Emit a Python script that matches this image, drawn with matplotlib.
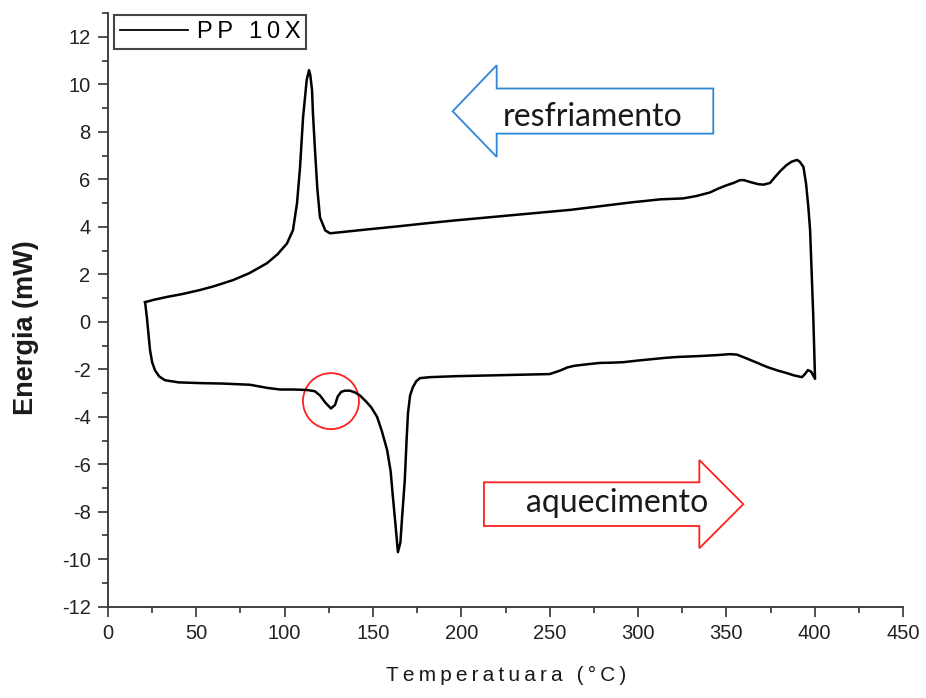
import matplotlib
matplotlib.use("Agg")
import matplotlib.pyplot as plt
from matplotlib.patches import Polygon, Ellipse
from matplotlib.ticker import MultipleLocator

# DSC loop: heating 21 -> 400 °C, then cooling 400 -> 21 °C
temp_heat = [21, 22, 23.8, 25, 26.6, 29, 32.3, 40, 52, 65, 80.4, 90, 97.4, 105, 112.6,
             117, 120, 123, 126.2, 128.5, 130, 132, 134, 137, 140, 142.6, 146, 149,
             152.3, 155, 158, 160, 161.3, 162.8, 164.1, 165.5, 166.5, 168, 169, 169.8,
             171, 172.6, 174.5, 176.6, 182.3, 196.4, 220, 240, 250, 256, 260, 264, 272,
             278.5, 285, 291.5, 300, 308.5, 315, 322, 335, 345, 352, 356, 359.4, 366,
             373, 379, 384.3, 388, 392.8, 394.5, 396.2, 398, 400.2]
energy_heat = [0.83, 0.2, -1.19, -1.7, -2.04, -2.3, -2.46, -2.55, -2.58, -2.6, -2.65,
               -2.78, -2.85, -2.85, -2.87, -2.92, -3.1, -3.4, -3.65, -3.5, -3.15, -2.95,
               -2.9, -2.9, -2.98, -3.1, -3.35, -3.6, -4.0, -4.6, -5.4, -6.3, -7.4, -8.6,
               -9.7, -9.3, -8.2, -6.66, -5.0, -3.85, -3.1, -2.75, -2.5, -2.37, -2.33,
               -2.29, -2.25, -2.22, -2.2, -2.05, -1.92, -1.85, -1.78, -1.73, -1.72, -1.7,
               -1.63, -1.57, -1.52, -1.48, -1.44, -1.4, -1.36, -1.38, -1.48, -1.68, -1.9,
               -2.05, -2.16, -2.25, -2.33, -2.2, -2.03, -2.1, -2.4]

temp_cool = [399.2, 398.3, 397.4, 396.4, 395.1, 393.6, 391.5, 390, 387, 384, 380.5,
             377.5, 374.7, 371, 368, 363, 360, 357.7, 354, 350, 345, 340.7, 333, 325.5,
             312.4, 305, 297, 278.5, 262, 244.5, 220, 196, 180, 165, 145, 130, 125.7,
             123, 120, 118.5, 117.2, 116, 115.5, 114.5, 113.8, 112.5, 110.4, 108.7, 107,
             104.7, 101.3, 96, 90, 80, 70.8, 60, 52, 42, 33.4, 26, 21]
energy_cool = [0.21, 2.04, 3.86, 4.84, 5.83, 6.53, 6.75, 6.82, 6.75, 6.6, 6.35, 6.1,
               5.85, 5.78, 5.8, 5.9, 5.97, 5.97, 5.85, 5.75, 5.6, 5.45, 5.3, 5.2, 5.16,
               5.1, 5.04, 4.87, 4.72, 4.6, 4.43, 4.27, 4.15, 4.03, 3.88, 3.76, 3.73, 3.85,
               4.4, 5.6, 7.2, 8.8, 9.76, 10.4, 10.6, 10.2, 8.6, 6.5, 5.0, 3.86, 3.3, 2.85,
               2.47, 2.05, 1.76, 1.5, 1.34, 1.17, 1.05, 0.93, 0.83]

temperature = temp_heat + temp_cool
energy = energy_heat + energy_cool

# highlighted small endotherm
circle_center = (126.2, -3.34)

TS = "\u2009"  # thin space used as letter spacing


def spaced(s):
    return TS.join(s)


plt.rcParams['font.family'] = ['Liberation Sans', 'DejaVu Sans']
plt.rcParams['axes.unicode_minus'] = False

fig = plt.figure(figsize=(9.26, 6.98), dpi=100)
ax = fig.add_axes([0.1166, 0.1308, 0.8586, 0.8502])

ax.plot(temperature, energy, color='black', lw=1.8, label=spaced("PP 10X"))

ax.set_xlim(0, 450)
ax.set_ylim(-12, 13)
ax.xaxis.set_major_locator(MultipleLocator(50))
ax.xaxis.set_minor_locator(MultipleLocator(25))
ax.yaxis.set_major_locator(MultipleLocator(2))
ax.yaxis.set_minor_locator(MultipleLocator(1))
ax.set_yticks(range(-12, 13, 2))

for side in ['top', 'right']:
    ax.spines[side].set_visible(False)
for side in ['left', 'bottom']:
    ax.spines[side].set_color('#333333')
    ax.spines[side].set_linewidth(1.3)

ax.tick_params(which='major', direction='out', length=7.5, width=1.2, color='#333333',
               labelsize=14.5, labelcolor='#222222', pad=5)
ax.tick_params(which='minor', direction='out', length=4, width=1.2, color='#333333')

ax.set_ylabel("Energia (mW)", fontsize=19.5, fontweight='bold', color='#1a1a1a')
ax.yaxis.set_label_coords(-0.087, 0.4705)
ax.set_xlabel(spaced("Temperatuara (°C)"), fontsize=15, color='#1a1a1a')
ax.xaxis.set_label_coords(0.5006, -0.1)
ax.xaxis.label.set_va('top')

leg = ax.legend(loc='upper left', bbox_to_anchor=(0.0075, 0.997), borderaxespad=0,
                fancybox=False, edgecolor='#444444', fontsize=17, handlelength=2.9,
                handletextpad=0.35, borderpad=0.25, framealpha=1)
leg.get_frame().set_linewidth(1.5)
leg.get_lines()[0].set_linewidth(1.3)

ax.add_patch(Ellipse(circle_center, width=31.7, height=2.36, fill=False,
                     edgecolor='#ff2020', lw=1.3))

# blue left-pointing arrow (cooling)
blue_arrow = [(342.6, 9.83), (220, 9.83), (220, 10.81), (195.1, 8.87),
              (220, 6.95), (220, 7.93), (342.6, 7.93)]
ax.add_patch(Polygon(blue_arrow, closed=True, facecolor='white',
                     edgecolor='#2f86d6', lw=1.3, zorder=3))
ax.text(274.5, 8.65, "resfriamento", family='Lato', fontsize=23, color='#1a1a1a',
        ha='center', va='center', zorder=4)

# red right-pointing arrow (heating)
red_arrow = [(212.8, -6.76), (334.7, -6.76), (334.7, -5.82), (359.6, -7.68),
             (334.7, -9.54), (334.7, -8.6), (212.8, -8.6)]
ax.add_patch(Polygon(red_arrow, closed=True, facecolor='white',
                     edgecolor='#ff2020', lw=1.3, zorder=3))
ax.text(288, -7.65, "aquecimento", family='Lato', fontsize=23, color='#1a1a1a',
        ha='center', va='center', zorder=4)

fig.savefig("out.png", dpi=100)
